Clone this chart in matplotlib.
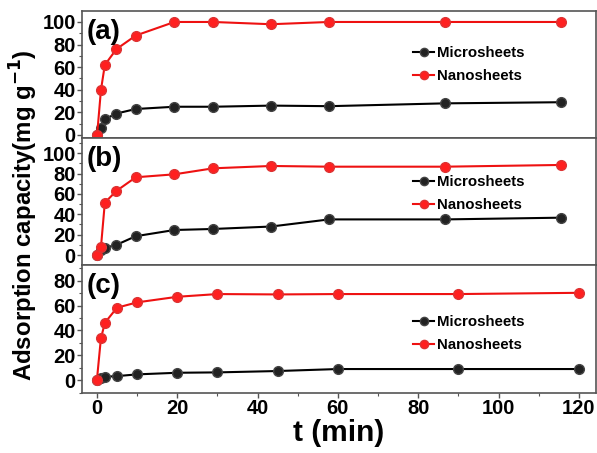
import numpy as np
import matplotlib
matplotlib.use("Agg")
import matplotlib.pyplot as plt
from matplotlib.ticker import MultipleLocator

plt.rcParams["font.family"] = ["Liberation Sans", "DejaVu Sans"]
plt.rcParams["font.weight"] = "bold"

# sampling times (min), same for all three panels
t = [0, 1, 2, 5, 10, 20, 30, 45, 60, 90, 120]

# (a)
micro_a = [0, 6, 14, 19, 23, 25, 25, 26, 25.5, 28, 29]
nano_a = [0, 40, 62, 76, 88, 100, 100, 98, 100, 100, 100]
# (b)
micro_b = [0, 5, 7, 10, 18.5, 24.6, 25.6, 28, 35, 35, 36.7]
nano_b = [0, 8, 51.5, 63, 76.4, 79.3, 85.2, 87.5, 86.8, 86.8, 88.5]
# (c)
micro_c = [0, 1.5, 2.7, 3.2, 4.6, 5.9, 6.2, 7.3, 8.9, 8.9, 8.9]
nano_c = [0, 33.6, 46.2, 58.3, 62.6, 67.1, 69.3, 69, 69.3, 69.3, 70.3]

panels = [
    ("(a)", micro_a, nano_a, (-3.9, 129.0), (-2.4, 109.7), 0.575),
    ("(b)", micro_b, nano_b, (-3.9, 129.0), (-9.8, 115.0), 0.56),
    ("(c)", micro_c, nano_c, (-3.7, 124.2), (-10.2, 92.7), 0.46),
]

fig = plt.figure(figsize=(5.97, 4.53), dpi=100)
left, width = 0.1374, 0.8606
bounds = [(0.696, 0.2797), (0.415, 0.2804), (0.133, 0.282)]

spine_col = "#555555"
for (label, micro, nano, xl, yl, leg_y), (bot, h) in zip(panels, bounds):
    ax = fig.add_axes([left, bot, width, h])
    ax.plot(t, micro, "-o", color="black", lw=1.5, ms=7,
            mfc="#222222", mec="#444444", label="Microsheets")
    ax.plot(t, nano, "-o", color="#ee1111", lw=1.5, ms=7,
            mfc="#ff2020", mec="#dd3333", label="Nanosheets")
    ax.set_xlim(*xl)
    ax.set_ylim(*yl)
    ax.yaxis.set_major_locator(MultipleLocator(20))
    ax.yaxis.set_minor_locator(MultipleLocator(10))
    ax.xaxis.set_major_locator(MultipleLocator(20))
    ax.xaxis.set_minor_locator(MultipleLocator(10))
    ax.tick_params(which="both", direction="out", color=spine_col)
    ax.tick_params(which="major", length=3.5, width=1, labelsize=14.5, pad=1)
    ax.tick_params(which="minor", length=2.5, width=0.8)
    for s in ax.spines.values():
        s.set_color(spine_col)
        s.set_linewidth(1.2)
    ax.text(0.008, 0.935, label, transform=ax.transAxes, fontsize=20,
            fontweight="bold", va="top", ha="left")
    ax.legend(loc="center left", bbox_to_anchor=(0.63, leg_y), frameon=False,
              fontsize=10.8, handlelength=1.4, handletextpad=0.2,
              labelspacing=0.6, markerscale=0.85, borderpad=0)
    if label != "(c)":
        ax.tick_params(axis="x", which="both", bottom=False, labelbottom=False)
    else:
        ax.set_xlabel("t (min)", fontsize=21.5, fontweight="bold", labelpad=1)

fig.text(0.04, 0.525, "Adsorption capacity(mg g$^{\\mathbf{-1}}$)", rotation=90,
         fontsize=17.3, fontweight="bold", ha="center", va="center")

fig.savefig("out.png", dpi=100)
